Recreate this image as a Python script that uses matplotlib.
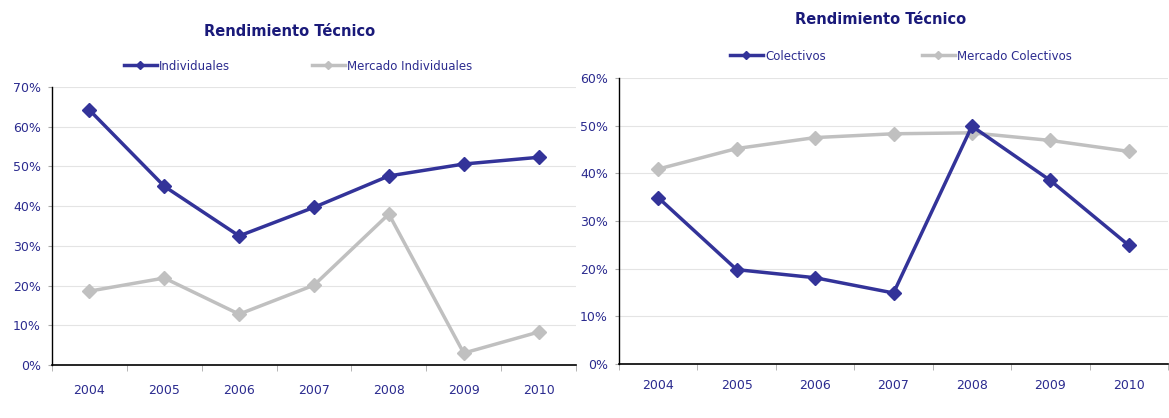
import numpy as np
import matplotlib.pyplot as plt
from matplotlib.ticker import FuncFormatter, MultipleLocator

years = ["2004", "2005", "2006", "2007", "2008", "2009", "2010"]
individuales = [64.2, 45.0, 32.5, 39.7, 47.6, 50.6, 52.3]
mercado_individuales = [18.6, 21.9, 12.8, 20.1, 38.0, 3.0, 8.3]
colectivos = [34.9, 19.8, 18.1, 14.9, 49.9, 38.5, 24.9]
mercado_colectivos = [40.9, 45.2, 47.5, 48.3, 48.5, 46.9, 44.6]

BLUE = "#333399"
GRAY = "#c0c0c0"
TEXT = "#2b2b8f"
TITLE = "#1a1a7a"

plt.rcParams["font.family"] = ["DejaVu Sans"]

fig = plt.figure(figsize=(11.69, 4.18), dpi=100)
ax1 = fig.add_axes([52 / 1169, 1 - 365 / 418, 524 / 1169, 278 / 418])
ax2 = fig.add_axes([619 / 1169, 1 - 364 / 418, 549 / 1169, 286 / 418])


def style_axes(ax, ymax, xpad):
    x = np.arange(len(years))
    ax.set_xlim(-0.5, len(years) - 0.5)
    ax.set_ylim(0, ymax)
    ax.set_xticks(x)
    ax.set_xticklabels(years)
    ax.set_xticks(np.arange(-0.5, len(years), 1), minor=True)
    ax.tick_params(axis="x", which="major", length=0, pad=xpad, labelsize=9, labelcolor=TEXT)
    ax.tick_params(axis="x", which="minor", length=4, color="#aaaaaa")
    ax.yaxis.set_major_locator(MultipleLocator(10))
    ax.yaxis.set_major_formatter(FuncFormatter(lambda v, _: f"{int(v)}%"))
    ax.tick_params(axis="y", length=3, pad=5, labelsize=9, labelcolor=TEXT, color="#aaaaaa")
    ax.grid(True, axis="y", color="#e4e4e4", linewidth=0.8)
    ax.set_axisbelow(True)
    for s in ["top", "right"]:
        ax.spines[s].set_visible(False)
    ax.spines["left"].set_linewidth(1.0)
    ax.spines["bottom"].set_linewidth(1.2)


def draw(ax, a, b, la, lb, ymax, xpad):
    x = np.arange(len(years))
    ax.plot(x, b, color=GRAY, lw=2.5, marker="D", ms=7, label=lb, zorder=3)
    ax.plot(x, a, color=BLUE, lw=2.5, marker="D", ms=7, label=la, zorder=4)
    style_axes(ax, ymax, xpad)


draw(ax1, individuales, mercado_individuales, "Individuales", "Mercado Individuales", 70, 14)
draw(ax2, colectivos, mercado_colectivos, "Colectivos", "Mercado Colectivos", 60, 11)

fig.text(290 / 1169, 1 - 32 / 418, "Rendimiento Técnico", ha="center", va="center",
         fontsize=10.5, fontweight="bold", color=TITLE)
fig.text(881 / 1169, 1 - 20 / 418, "Rendimiento Técnico", ha="center", va="center",
         fontsize=10.5, fontweight="bold", color=TITLE)

for ax, cx, cy, cs in [(ax1, 298 / 1169, 1 - 66 / 418, 6.9),
                       (ax2, 901 / 1169, 1 - 56 / 418, 8.1)]:
    h, l = ax.get_legend_handles_labels()
    leg = fig.legend(h[::-1], l[::-1], ncol=2, loc="center", bbox_to_anchor=(cx, cy),
                     frameon=False, fontsize=8.5, handlelength=2.8, handletextpad=0.2,
                     columnspacing=cs, markerscale=0.55)
    for t in leg.get_texts():
        t.set_color(TEXT)

fig.savefig("out.png", dpi=100)
